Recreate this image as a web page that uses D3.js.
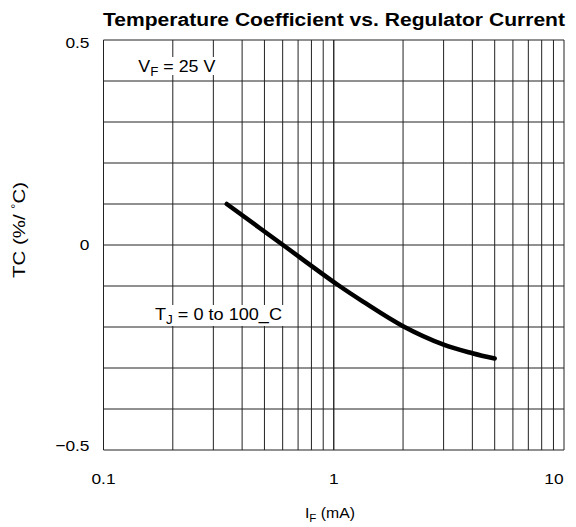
<!DOCTYPE html>
<html>
<head>
<meta charset="utf-8">
<script src="https://cdn.jsdelivr.net/npm/d3@7"></script>
<style>
  body { margin: 0; background: #fff; }
  text { font-family: "Liberation Sans", Arial, sans-serif; fill: #000; }
</style>
</head>
<body>
<script>
// curve: regulator current (mA) vs temperature coefficient (%/°C)
var currentMA = [0.343, 0.602, 1.04, 1.34, 2.0, 3.0, 4.0, 5.0];
var tempCoef  = [0.10, 0.0, -0.097, -0.138, -0.198, -0.243, -0.264, -0.277];

var xTicks = [0.1, 1, 10];
var yTicks = [-0.5, 0, 0.5];
var yTickLabels = ["\u22120.5", "0", "0.5"];

var width = 576, height = 527;
var margin = {top: 40, right: 12, bottom: 77, left: 103.5};

var svg = d3.select("body").append("svg")
    .attr("width", width)
    .attr("height", height);

var x = d3.scaleLog()
    .domain([0.1, 10])
    .range([margin.left, width - margin.right]);
var y = d3.scaleLinear()
    .domain([-0.5, 0.5])
    .range([height - margin.bottom, margin.top]);

// grid: every log minor tick and every 0.1 on y
var xGrid = [];
[0.1, 1].forEach(function(dec) {
    for (var k = 1; k <= 10; k++) xGrid.push(dec * k);
});
var yGrid = d3.range(-5, 6).map(function(i) { return i / 10; });

svg.append("g").selectAll("line")
    .data(xGrid)
    .enter().append("line")
    .attr("x1", function(d) { return x(d); })
    .attr("x2", function(d) { return x(d); })
    .attr("y1", y(-0.5))
    .attr("y2", y(0.5))
    .attr("stroke", "#222")
    .attr("stroke-width", 1);

svg.append("g").selectAll("line")
    .data(yGrid)
    .enter().append("line")
    .attr("x1", x(0.1))
    .attr("x2", x(10))
    .attr("y1", function(d) { return y(d); })
    .attr("y2", function(d) { return y(d); })
    .attr("stroke", "#222")
    .attr("stroke-width", 1);

// title
svg.append("text")
    .attr("x", 103)
    .attr("y", 26)
    .attr("textLength", 462)
    .attr("lengthAdjust", "spacingAndGlyphs")
    .style("font-size", "18px")
    .style("font-weight", "bold")
    .text("Temperature Coefficient vs. Regulator Current");

// tick labels (end labels kept inside the page / plot like the original)
svg.append("g").selectAll("text")
    .data(xTicks)
    .enter().append("text")
    .attr("transform", function(d) {
        return "translate(" + Math.min(x(d), width - 22) + ",484) scale(1.12,1)";
    })
    .attr("text-anchor", "middle")
    .style("font-size", "15.5px")
    .text(function(d) { return d; });

svg.append("g").selectAll("text")
    .data(yTicks)
    .enter().append("text")
    .attr("transform", function(d) {
        var yy = Math.max(48, Math.min(451, y(d) + 5));
        return "translate(89.5," + yy + ") scale(1.12,1)";
    })
    .attr("text-anchor", "end")
    .style("font-size", "15.5px")
    .text(function(d, i) { return yTickLabels[i]; });

// axis titles
var xt = svg.append("text")
    .attr("x", 305)
    .attr("y", 518)
    .attr("textLength", 50)
    .attr("lengthAdjust", "spacingAndGlyphs")
    .style("font-size", "15px");
xt.append("tspan").text("I");
xt.append("tspan").attr("dy", 4).style("font-size", "11px").text("F");
xt.append("tspan").attr("dy", -4).text(" (mA)");

var yt = svg.append("text")
    .attr("transform", "translate(25,278) rotate(-90)")
    .attr("textLength", 96)
    .attr("lengthAdjust", "spacingAndGlyphs")
    .style("font-size", "16px");
yt.append("tspan").text("TC (%/ ");
yt.append("tspan").attr("dy", -6).style("font-size", "10px").text("\u00b0");
yt.append("tspan").attr("dy", 6).text("C)");

// annotations with white backing
svg.append("rect")
    .attr("x", 136).attr("y", 57)
    .attr("width", 82).attr("height", 18)
    .attr("fill", "#fff");
var vf = svg.append("text")
    .attr("x", 138.3)
    .attr("y", 71.7)
    .attr("textLength", 77)
    .attr("lengthAdjust", "spacingAndGlyphs")
    .style("font-size", "16px");
vf.append("tspan").text("V");
vf.append("tspan").attr("dy", 4).style("font-size", "12px").text("F");
vf.append("tspan").attr("dy", -4).text(" = 25 V");

svg.append("rect")
    .attr("x", 152).attr("y", 305)
    .attr("width", 132).attr("height", 21)
    .attr("fill", "#fff");
var tj = svg.append("text")
    .attr("x", 155)
    .attr("y", 320)
    .attr("textLength", 127)
    .attr("lengthAdjust", "spacingAndGlyphs")
    .style("font-size", "16px");
tj.append("tspan").text("T");
tj.append("tspan").attr("dy", 4).style("font-size", "12px").text("J");
tj.append("tspan").attr("dy", -4).text(" = 0 to 100_C");

// curve
var data = currentMA.map(function(c, i) { return {i: c, tc: tempCoef[i]}; });
svg.append("path")
    .datum(data)
    .attr("fill", "none")
    .attr("stroke", "#000")
    .attr("stroke-width", 4.5)
    .attr("stroke-linecap", "round")
    .attr("d", d3.line().curve(d3.curveCatmullRom.alpha(0.5))
        .x(function(d) { return x(d.i); })
        .y(function(d) { return y(d.tc); }));
</script>
</body>
</html>
